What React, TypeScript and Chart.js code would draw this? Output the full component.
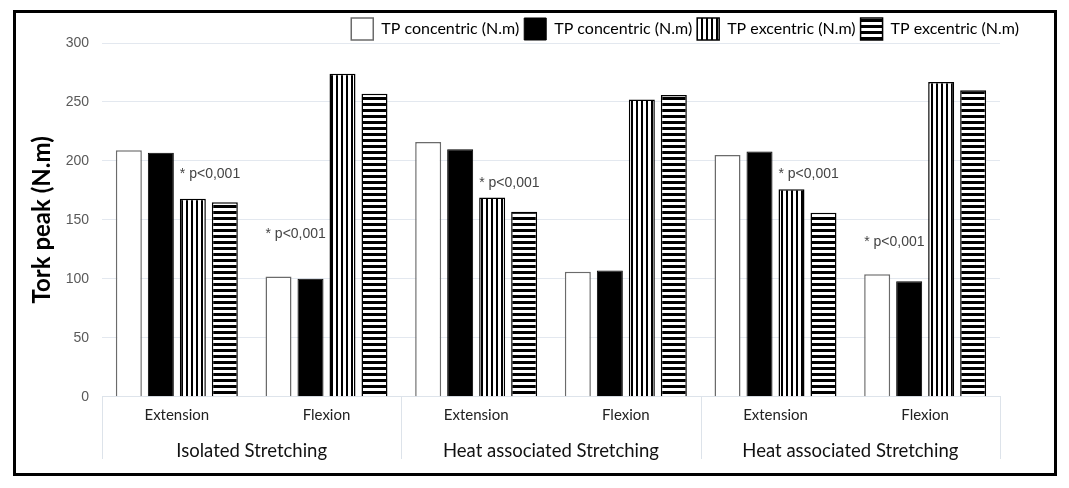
import { useEffect, useRef } from "react"
import { Chart, registerables } from "chart.js"

Chart.register(...registerables)

const movements = ["Extension", "Flexion"]
const groups = ["Isolated Stretching", "Heat associated Stretching", "Heat associated Stretching"]
const categories = groups.flatMap(() => movements)

const seriesNames = ["TP concentric (N.m)", "TP concentric (N.m)", "TP excentric (N.m)", "TP excentric (N.m)"]
const concentricWhite = [209, 102, 216, 106, 205, 104]
const concentricBlack = [207, 100, 210, 107, 208, 98]
const excentricVertical = [168, 274, 169, 252, 176, 267]
const excentricHorizontal = [165, 257, 157, 256, 156, 260]

const yTicks = [0, 50, 100, 150, 200, 250, 300]

// "* p<0,001" notes: category index, dataset the note sits over, y value
const noteText = "* p<0,001"
const noteCategory = [0, 1, 2, 4, 5]
const noteDataset = [2, 0, 2, 2, 0]
const noteValue = [189, 138, 181, 189, 131]

const uiFont = "Lato, 'Open Sans', sans-serif"

function stripes(vertical: boolean): CanvasPattern | string {
  const tile = document.createElement("canvas")
  tile.width = vertical ? 5 : 6
  tile.height = vertical ? 5 : 6
  const t = tile.getContext("2d")
  if (!t) return "#000"
  t.fillStyle = "#fff"
  t.fillRect(0, 0, tile.width, tile.height)
  t.fillStyle = "#000"
  if (vertical) t.fillRect(0, 0, 2, 5)
  else t.fillRect(0, 0, 6, 3)
  return t.createPattern(tile, "repeat") ?? "#000"
}

const notesPlugin = {
  id: "pNotes",
  afterDatasetsDraw(chart: Chart) {
    const { ctx } = chart
    const y = chart.scales.y
    ctx.save()
    ctx.font = "14px 'Liberation Sans', Arial, sans-serif"
    ctx.fillStyle = "#444"
    ctx.textAlign = "left"
    ctx.textBaseline = "middle"
    noteCategory.forEach((ci, i) => {
      const bar = chart.getDatasetMeta(noteDataset[i]).data[ci] as any
      ctx.fillText(noteText, bar.x - bar.width / 2, y.getPixelForValue(noteValue[i]))
    })
    ctx.restore()
  },
}

const separatorPlugin = {
  id: "groupSeparators",
  afterDraw(chart: Chart) {
    const { ctx } = chart
    const x = chart.scales.x
    const x2 = chart.scales.x2
    ctx.save()
    ctx.strokeStyle = "#dde3ea"
    ctx.lineWidth = 1
    for (let g = 0; g <= groups.length; g++) {
      const px = Math.round(x.getPixelForValue(g * movements.length - 0.5)) + 0.5
      ctx.beginPath()
      ctx.moveTo(px, x.top)
      ctx.lineTo(px, x2.bottom - 10)
      ctx.stroke()
    }
    ctx.restore()
  },
}

function TorkChart() {
  const canvasRef = useRef<HTMLCanvasElement>(null)
  const chartRef = useRef<Chart | null>(null)

  useEffect(() => {
    if (!canvasRef.current) return
    const ctx = canvasRef.current.getContext("2d")
    if (!ctx) return
    chartRef.current?.destroy()

    const vertical = stripes(true)
    const horizontal = stripes(false)
    const base = { categoryPercentage: 0.855, barPercentage: 0.8125 }

    chartRef.current = new Chart(ctx, {
      type: "bar",
      data: {
        labels: categories,
        datasets: [
          { ...base, label: seriesNames[0], data: concentricWhite, backgroundColor: "#fff", borderColor: "#6b6b6b", borderWidth: 1.5 },
          { ...base, label: seriesNames[1], data: concentricBlack, backgroundColor: "#000", borderColor: "#000", borderWidth: 1 },
          { ...base, label: seriesNames[2], data: excentricVertical, backgroundColor: vertical, borderColor: "#000", borderWidth: 1.5 },
          { ...base, label: seriesNames[3], data: excentricHorizontal, backgroundColor: horizontal, borderColor: "#000", borderWidth: 1.5 },
        ],
      },
      options: {
        responsive: true,
        maintainAspectRatio: false,
        animation: false,
        layout: { padding: { left: 0, right: 30, top: 0, bottom: 4 } },
        plugins: {
          legend: {
            position: "top",
            align: "end",
            maxHeight: 30,
            labels: {
              boxWidth: 22,
              boxHeight: 22,
              padding: 5,
              color: "#000",
              font: { family: uiFont, size: 16 },
            },
          },
          tooltip: { enabled: false },
        },
        scales: {
          x: {
            type: "category",
            weight: 0,
            grid: { display: false, drawTicks: false },
            border: { display: true, color: "#dde3ea" },
            ticks: { padding: 9, color: "#222", font: { family: uiFont, size: 15 } },
          },
          x2: {
            type: "category",
            position: "bottom",
            weight: 1,
            labels: groups,
            offset: true,
            grid: { display: false, drawTicks: false },
            border: { display: false },
            ticks: { padding: 7, color: "#111", font: { family: uiFont, size: 18.5 } },
          },
          y: {
            min: 0,
            max: 300,
            afterFit: (s: any) => { s.width = 86 },
            afterBuildTicks: (s: any) => { s.ticks = yTicks.map(v => ({ value: v })) },
            grid: { color: "#e3e8ef", drawTicks: false },
            border: { display: false },
            ticks: { padding: 13, color: "#595959", font: { family: "'Liberation Sans', Arial, sans-serif", size: 14 } },
            title: {
              display: true,
              text: "Tork peak (N.m)",
              color: "#000",
              padding: { top: 12, bottom: 0 },
              font: { family: uiFont, size: 24, weight: "bold" },
            },
          },
          yRight: {
            position: "right",
            afterFit: (s: any) => { s.width = 24 },
            grid: { display: false },
            border: { display: false },
            ticks: { display: false },
          },
        },
      },
      plugins: [notesPlugin, separatorPlugin],
    })

    return () => { chartRef.current?.destroy() }
  }, [])

  return (
    <div style={{ position: "relative", width: "100%", height: "100%" }}>
      <canvas ref={canvasRef} aria-label="Tork peak by movement and stretching protocol" role="img" />
    </div>
  )
}

export default function App() {
  return (
    <div style={{ position: "absolute", left: 0, top: 0, width: 1069, height: 488, background: "#fff" }}>
      <div style={{ position: "absolute", left: 13, top: 10, width: 1044, height: 466, boxSizing: "border-box", border: "3px solid #000", background: "#fff" }}>
        <TorkChart />
      </div>
    </div>
  )
}
